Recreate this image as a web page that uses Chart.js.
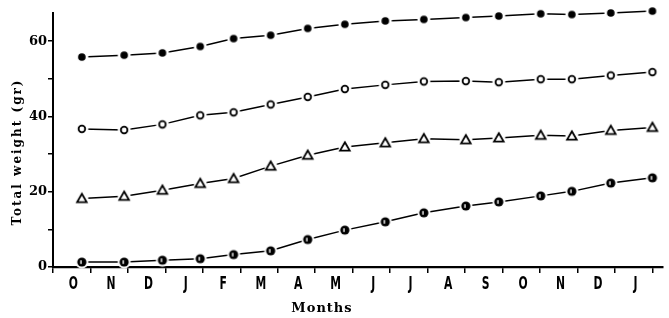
<!DOCTYPE html>
<html>
<head>
<meta charset="utf-8">
<script src="https://cdn.jsdelivr.net/npm/chart.js@4/dist/chart.umd.min.js"></script>
<style>
  html, body { margin: 0; padding: 0; background: #fff; }
  #wrap { width: 669px; height: 318px; }
</style>
</head>
<body>
<div id="wrap"><canvas id="chart"></canvas></div>
<script>
// Months along the x axis
const months = ['O', 'N', 'D', 'J', 'F', 'M', 'A', 'M', 'J', 'J', 'A', 'S', 'O', 'N', 'D', 'J'];
// sampling positions (in months from the start of the axis)
const sampleX = [0.77, 1.90, 2.92, 3.93, 4.82, 5.81, 6.80, 7.79, 8.87, 9.90, 11.02, 11.90, 13.02, 13.85, 14.89, 16.00];

// Total weight (gr) per series
const filledCircle = [55.8, 56.3, 56.9, 58.6, 60.7, 61.6, 63.4, 64.5, 65.4, 65.8, 66.3, 66.7, 67.3, 67.1, 67.5, 68.0];
const openCircle   = [36.7, 36.4, 37.9, 40.3, 41.1, 43.2, 45.2, 47.3, 48.4, 49.3, 49.4, 49.1, 49.9, 49.9, 50.9, 51.8];
const triangle     = [18.2, 18.8, 20.4, 22.2, 23.5, 26.8, 29.7, 31.9, 33.0, 34.1, 33.8, 34.3, 35.0, 34.8, 36.3, 37.1];
const halfCircle   = [1.3, 1.3, 1.8, 2.2, 3.3, 4.3, 7.3, 9.8, 12.0, 14.4, 16.2, 17.3, 18.9, 20.1, 22.3, 23.7];

const yTicks = [0, 20, 40, 60];

// marker images, each with a small white halo so the line stops short of the mark
function marker(kind) {
  const c = document.createElement('canvas');
  c.width = 16; c.height = 16;
  const g = c.getContext('2d');
  const m = 8;
  g.fillStyle = '#fff';
  g.beginPath(); g.arc(m, m, 6.5, 0, Math.PI * 2); g.fill();
  g.strokeStyle = '#000';
  g.fillStyle = '#000';
  g.lineWidth = 1.8;
  if (kind === 'filled') {
    g.beginPath(); g.arc(m, m, 3.8, 0, Math.PI * 2); g.fill();
  } else if (kind === 'open') {
    g.beginPath(); g.arc(m, m, 3.3, 0, Math.PI * 2); g.stroke();
  } else if (kind === 'tri') {
    g.lineJoin = 'miter';
    g.beginPath();
    g.moveTo(m, m - 4.8); g.lineTo(m + 4.8, m + 3.6); g.lineTo(m - 4.8, m + 3.6);
    g.closePath(); g.stroke();
  } else {
    g.beginPath(); g.arc(m, m, 4.6, 0, Math.PI * 2); g.fill();
    g.fillStyle = '#fff';
    g.fillRect(m - 1.6, m - 1.8, 1.4, 3.6);
  }
  return c;
}

function series(values, kind) {
  return {
    data: values.map((v, i) => ({ x: sampleX[i], y: v })),
    borderColor: '#000',
    borderWidth: 1.5,
    pointStyle: marker(kind),
    pointRadius: 5,
    pointHoverRadius: 5,
    tension: 0,
    fill: false,
    clip: false
  };
}

// axis titles and the narrow month letters (the canvas has no condensed font)
const titles = {
  id: 'titles',
  afterDraw(chart) {
    const c = chart.ctx;
    const xs = chart.scales.x;
    c.save();
    c.fillStyle = '#000';
    c.textAlign = 'center';
    c.textBaseline = 'middle';
    c.font = 'bold 18px "DejaVu Sans", sans-serif';
    months.forEach((m, i) => {
      const px = xs.getPixelForValue(i + 1) - 17;
      c.save();
      c.translate(px, 284);
      c.scale(0.6, 1);
      c.fillText(m, 0, 0);
      c.restore();
    });
    c.font = 'bold 12px "DejaVu Serif", serif';
    c.letterSpacing = '2px';
    c.save();
    c.translate(18, 152);
    c.rotate(-Math.PI / 2);
    c.fillText('Total weight (gr)', 0, 0);
    c.restore();
    c.font = 'bold 13px "DejaVu Serif", serif';
    c.letterSpacing = '1px';
    c.fillText('Months', 322, 309);
    c.restore();
  }
};

const ctx = document.getElementById('chart').getContext('2d');

const chart = new Chart(ctx, {
  type: 'line',
  data: {
    datasets: [
      series(filledCircle, 'filled'),
      series(openCircle, 'open'),
      series(triangle, 'tri'),
      series(halfCircle, 'half')
    ]
  },
  options: {
    responsive: true,
    maintainAspectRatio: false,
    animation: false,
    layout: { padding: { top: 13, right: 0, left: 0, bottom: 0 } },
    plugins: {
      legend: { display: false },
      tooltip: { enabled: false }
    },
    scales: {
      x: {
        type: 'linear',
        min: 0,
        max: 16.27,
        afterBuildTicks(scale) {
          scale.ticks = [];
          for (let i = 0; i <= months.length; i++) scale.ticks.push({ value: i });
        },
        afterFit(scale) { scale.height = 51; },
        grid: { drawOnChartArea: false, drawTicks: true, tickLength: 6, color: '#000', lineWidth: 1.5 },
        border: { display: true, color: '#000', width: 2.2 },
        ticks: {
          autoSkip: false,
          maxRotation: 0,
          callback: () => ''
        }
      },
      y: {
        min: 0,
        max: 67.5,
        afterBuildTicks(scale) {
          scale.ticks = [0, 10, 20, 30, 40, 50, 60].map(v => ({ value: v }));
        },
        afterFit(scale) { scale.width = 53; },
        grid: { drawOnChartArea: false, drawTicks: true, tickLength: 5, color: '#000', lineWidth: 1.5 },
        border: { display: true, color: '#000', width: 2 },
        ticks: {
          padding: 1,
          color: '#000',
          font: { family: '"DejaVu Serif", serif', weight: 'bold', size: 13 },
          callback: (v) => (yTicks.includes(v) ? String(v) : '')
        }
      }
    }
  },
  plugins: [titles]
});
</script>
</body>
</html>
